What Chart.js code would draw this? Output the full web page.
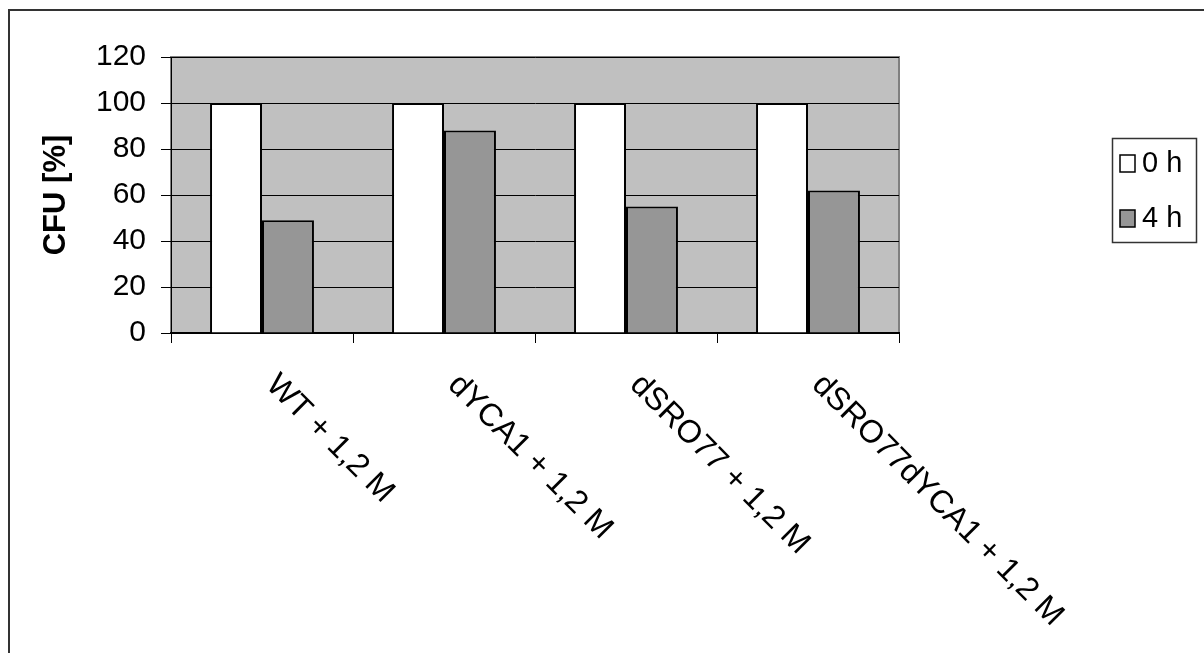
<!DOCTYPE html>
<html>
<head>
<meta charset="utf-8">
<script src="https://cdn.jsdelivr.net/npm/chart.js@4/dist/chart.umd.min.js"></script>
<style>
	html, body { margin: 0; padding: 0; background: #fff; overflow: hidden; }
	#wrap { position: relative; width: 1204px; height: 653px; }
	#frame { position: absolute; left: 8px; top: 9px; width: 1300px; height: 800px; border: 2px solid #333; }
	canvas { position: absolute; left: 0; top: 0; }
</style>
</head>
<body>
<div id="wrap">
	<div id="frame"></div>
	<canvas id="myChart" width="1204" height="653"></canvas>
</div>
<script>
const categorias = ['WT + 1,2 M', 'dYCA1 + 1,2 M', 'dSRO77 + 1,2 M', 'dSRO77dYCA1 + 1,2 M'];
const serieNomes = ['0 h', '4 h'];
const valores0h = [100, 100, 100, 100];
const valores4h = [49, 88, 55, 62];
const ticksY = [0, 20, 40, 60, 80, 100, 120];

const FONTE = 'Liberation Sans, Arial, sans-serif';

// fundo cinza da área do gráfico
const fundoPlugin = {
	id: 'fundo',
	beforeDraw(chart) {
		const { ctx, chartArea: a } = chart;
		ctx.save();
		ctx.fillStyle = '#C0C0C0';
		ctx.fillRect(a.left, a.top, a.right - a.left, a.bottom - a.top);
		ctx.strokeStyle = '#808080';
		ctx.lineWidth = 2;
		ctx.strokeRect(a.left, a.top, a.right - a.left, a.bottom - a.top);
		ctx.restore();
	}
};

// rótulos inclinados (45 graus, para baixo) e legenda
const rotulosPlugin = {
	id: 'rotulos',
	afterDraw(chart) {
		const { ctx } = chart;
		const xs = chart.scales.x;
		ctx.save();
		ctx.fillStyle = '#000';
		ctx.font = '32px ' + FONTE;
		ctx.textAlign = 'left';
		ctx.textBaseline = 'middle';
		categorias.forEach((cat, i) => {
			const x = xs.getPixelForValue(i) + 9;
			const y = xs.top + 47;
			ctx.save();
			ctx.translate(x, y);
			ctx.rotate(Math.PI / 4);
			ctx.fillText(cat, 0, 0);
			ctx.restore();
		});

		// legenda
		const lx = 1112, ly = 138, lw = 84, lh = 104;
		ctx.fillStyle = '#fff';
		ctx.fillRect(lx, ly, lw, lh);
		ctx.strokeStyle = '#333';
		ctx.lineWidth = 1.5;
		ctx.strokeRect(lx + 0.5, ly + 0.5, lw, lh);
		ctx.font = '29px ' + FONTE;
		chart.data.datasets.forEach((ds, i) => {
			const cy = ly + 25 + i * 55;
			ctx.fillStyle = ds.backgroundColor;
			ctx.fillRect(lx + 8, cy - 8, 15, 17);
			ctx.strokeStyle = '#000';
			ctx.lineWidth = 1.5;
			ctx.strokeRect(lx + 8, cy - 8, 15, 17);
			ctx.fillStyle = '#000';
			ctx.textBaseline = 'middle';
			ctx.fillText(ds.label, lx + 30, cy + 1);
		});
		ctx.restore();
	}
};

const ctx = document.getElementById('myChart').getContext('2d');
const myChart = new Chart(ctx, {
	type: 'bar',
	data: {
		labels: categorias,
		datasets: [
			{
				label: serieNomes[0],
				data: valores0h,
				backgroundColor: '#FFFFFF',
				borderColor: '#000000',
				borderWidth: 2,
				categoryPercentage: 0.571,
				barPercentage: 1
			},
			{
				label: serieNomes[1],
				data: valores4h,
				backgroundColor: '#969696',
				borderColor: '#000000',
				borderWidth: 2,
				categoryPercentage: 0.571,
				barPercentage: 1
			}
		]
	},
	plugins: [fundoPlugin, rotulosPlugin],
	options: {
		responsive: false,
		animation: false,
		layout: { padding: { left: 0, top: 57, right: 305, bottom: 0 } },
		plugins: {
			legend: { display: false },
			tooltip: { enabled: false }
		},
		scales: {
			x: {
				grid: {
					offset: true,
					drawOnChartArea: false,
					drawTicks: true,
					tickLength: 10,
					color: '#000'
				},
				border: { color: '#000', width: 2 },
				ticks: { display: false },
				afterFit(scale) { scale.height = 320; }
			},
			y: {
				min: 0,
				max: 120,
				afterBuildTicks(scale) { scale.ticks = ticksY.map(v => ({ value: v })); },
				grid: { color: '#000', lineWidth: 1, tickLength: 10 },
				border: { color: '#000', width: 1 },
				ticks: {
					color: '#000',
					padding: 15,
					font: { family: FONTE, size: 30 }
				},
				title: {
					display: true,
					text: 'CFU [%]',
					color: '#000',
					font: { family: FONTE, size: 31, weight: 'bold' },
					padding: { top: 38, bottom: 0 }
				},
				afterFit(scale) { scale.width = 171; }
			}
		}
	}
});
</script>
</body>
</html>
